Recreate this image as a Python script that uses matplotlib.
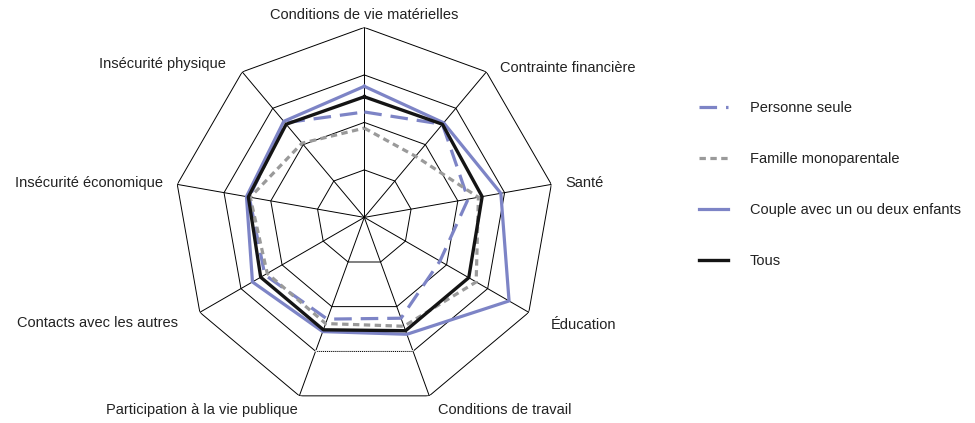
import numpy as np
import matplotlib
matplotlib.use("Agg")
import matplotlib.pyplot as plt
from matplotlib.lines import Line2D

plt.rcParams['font.family'] = ['Liberation Sans', 'DejaVu Sans']

# axes, clockwise from the top
categories = ["Conditions de vie matérielles", "Contrainte financière", "Santé",
              "Éducation", "Conditions de travail", "Participation à la vie publique",
              "Contacts avec les autres", "Insécurité économique", "Insécurité physique"]

personne_seule = [55.5, 64, 55.5, 46, 56.5, 57, 60.5, 61.5, 65]
famille_mono = [47, 42, 61, 68, 61, 59.5, 59, 61, 51]
couple = [69, 65, 73, 88, 65.5, 64, 68, 63, 66]
tous = [63.5, 64, 63, 63.5, 63.5, 63, 63, 62, 64]

series_names = ["Personne seule", "Famille monoparentale",
                "Couple avec un ou deux enfants", "Tous"]
rings = [25, 50, 75, 100]

# label offsets from the outer vertex (points) and alignment
label_pos = [((0, 9), 'center'), ((10, 3), 'left'), ((10, 1), 'left'),
             ((16, -9), 'left'), ((6, -10), 'left'), ((-1, -10), 'right'),
             ((-16, -8), 'right'), ((-10, 1), 'right'), ((-12, 6), 'right')]

n = len(categories)
theta = np.arange(n) * 2 * np.pi / n
theta_c = np.append(theta, theta[0])


def closed(v):
    return np.append(v, v[0])


fig = plt.figure(figsize=(9.75, 4.23), dpi=100)
ax = fig.add_axes([0.1788, 0.0371, 0.3897, 0.898], projection='polar')
ax.set_theta_zero_location('N')
ax.set_theta_direction(-1)
ax.set_ylim(0, 100)
ax.grid(False)
ax.spines['polar'].set_visible(False)
ax.set_xticks([])
ax.set_yticks([])
ax.patch.set_visible(False)

# polygon grid
for r in rings:
    ax.plot(theta_c, [r] * (n + 1), color='black', lw=0.7, zorder=1)
for t in theta:
    ax.plot([t, t], [0, 100], color='black', lw=0.7, zorder=1)
# dotted bottom edge of the third ring
ax.plot(theta[4:6], [75, 75], color='white', lw=1.2, zorder=1.5)
ax.plot(theta[4:6], [75, 75], color='black', lw=0.7, ls=(0, (1, 1)), zorder=1.6)

blue = '#7d84c6'
gray = '#9a9a9a'
styles = [dict(color=blue, lw=2.3, ls=(0, (5.5, 2.8))),
          dict(color=gray, lw=2.3, ls=(0, (2, 1.4))),
          dict(color=blue, lw=2.3),
          dict(color='#141414', lw=2.4)]
data = [personne_seule, famille_mono, couple, tous]

for vals, st, name in zip(data, styles, series_names):
    ax.plot(theta_c, closed(vals), label=name, zorder=3, **st)

for t, lab, (off, ha) in zip(theta, categories, label_pos):
    ax.annotate(lab, xy=(t, 100), xytext=off, textcoords='offset points',
                ha=ha, va='center', fontsize=10.5, color='#222222')

handles = [Line2D([], [], **st) for st in styles]
fig.legend(handles, series_names, loc='upper left', bbox_to_anchor=(0.717, 0.762),
           frameon=False, fontsize=10.5, handlelength=2.0, handletextpad=1.5,
           labelspacing=2.55, borderpad=0, borderaxespad=0, labelcolor='#222222')

fig.savefig('out.png', dpi=100)
